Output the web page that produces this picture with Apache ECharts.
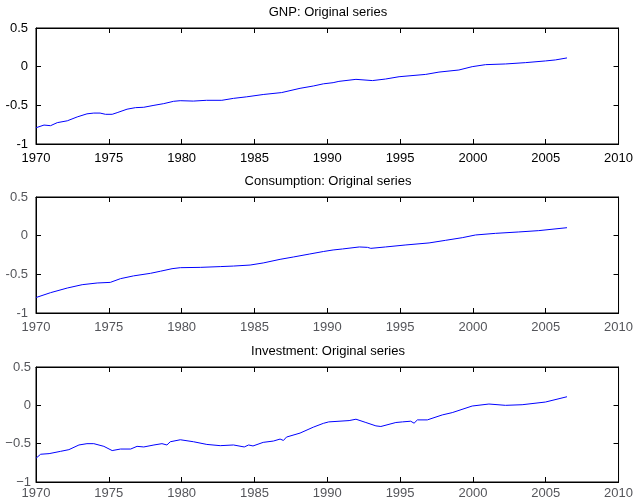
<!DOCTYPE html>
<html>
<head>
<meta charset="utf-8">
<script src="https://cdn.jsdelivr.net/npm/echarts@6/dist/echarts.min.js"></script>
<style>
  html, body { margin: 0; padding: 0; background: #fff; }
  #chart { width: 636px; height: 500px; }
</style>
</head>
<body>
<div id="chart"></div>
<script>
// Panel titles
const panelTitles = ['GNP: Original series', 'Consumption: Original series', 'Investment: Original series'];

// Axis ticks
const xTicks = { min: 1970, max: 2010, step: 5 };
const yTicks = { min: -1, max: 0.5, step: 0.5 };

// [year, log level] observations for each series
const gnp = [
  [1970.0, -0.79], [1970.55, -0.755], [1971.0, -0.763], [1971.46, -0.724], [1972.15, -0.70],
  [1972.83, -0.65], [1973.5, -0.61], [1973.97, -0.60], [1974.4, -0.60], [1974.77, -0.616],
  [1975.23, -0.616], [1975.57, -0.595], [1976.25, -0.55], [1976.83, -0.53], [1977.4, -0.525],
  [1978.1, -0.50], [1978.77, -0.478], [1979.45, -0.448], [1979.9, -0.44], [1980.8, -0.445],
  [1981.7, -0.435], [1982.76, -0.435], [1983.56, -0.41], [1984.47, -0.39], [1985.6, -0.36],
  [1986.87, -0.335], [1988.13, -0.28], [1989.04, -0.25], [1989.73, -0.222], [1990.4, -0.207],
  [1990.8, -0.19], [1991.97, -0.164], [1993.1, -0.18], [1994.0, -0.16], [1994.93, -0.13],
  [1996.76, -0.10], [1997.67, -0.07], [1999.04, -0.043], [1999.95, 0.0], [2000.87, 0.026],
  [2002.24, 0.035], [2003.6, 0.052], [2004.98, 0.074], [2005.66, 0.087], [2006.46, 0.113]
];

const consumption = [
  [1970.0, -0.80], [1971.0, -0.737], [1972.15, -0.677], [1973.17, -0.634], [1974.2, -0.612],
  [1975.1, -0.604], [1975.8, -0.556], [1976.7, -0.52], [1977.86, -0.487], [1978.54, -0.46],
  [1979.34, -0.427], [1979.91, -0.414], [1981.28, -0.41], [1982.65, -0.40], [1983.56, -0.393],
  [1984.7, -0.38], [1985.6, -0.353], [1986.76, -0.306], [1987.67, -0.276], [1988.8, -0.237],
  [1989.73, -0.205], [1990.4, -0.185], [1991.05, -0.172], [1992.2, -0.146], [1992.76, -0.151],
  [1992.99, -0.164], [1994.0, -0.146], [1995.4, -0.12], [1996.99, -0.094], [1998.13, -0.06],
  [1999.27, -0.026], [2000.18, 0.009], [2001.55, 0.03], [2003.15, 0.048], [2004.52, 0.065],
  [2006.46, 0.103]
];

const investment = [
  [1970.0, -0.69], [1970.32, -0.638], [1970.9, -0.63], [1971.69, -0.60], [1972.26, -0.578],
  [1972.95, -0.517], [1973.5, -0.50], [1973.97, -0.50], [1974.66, -0.535], [1975.23, -0.59],
  [1975.8, -0.57], [1976.5, -0.57], [1976.94, -0.535], [1977.4, -0.543], [1978.1, -0.517],
  [1978.65, -0.50], [1978.99, -0.517], [1979.22, -0.475], [1979.91, -0.449], [1980.82, -0.475],
  [1981.73, -0.51], [1982.65, -0.526], [1983.56, -0.517], [1984.3, -0.543], [1984.6, -0.517],
  [1984.9, -0.53], [1985.6, -0.483], [1986.3, -0.466], [1986.76, -0.44], [1986.99, -0.458],
  [1987.2, -0.414], [1988.13, -0.362], [1989.04, -0.285], [1989.73, -0.235], [1990.1, -0.216],
  [1991.5, -0.199], [1991.97, -0.181], [1992.65, -0.224], [1993.34, -0.268], [1993.68, -0.276],
  [1994.71, -0.224], [1995.16, -0.216], [1995.73, -0.207], [1995.96, -0.233], [1996.19, -0.19],
  [1996.87, -0.19], [1997.9, -0.125], [1998.58, -0.095], [1999.95, -0.009], [2001.1, 0.017],
  [2002.24, 0.0], [2003.38, 0.008], [2004.98, 0.043], [2006.46, 0.112]
];

const seriesData = [gnp, consumption, investment];

const FONT = '"Liberation Sans", Arial, Helvetica, sans-serif';
const gridTops = [28, 197, 367];
const gridHeight = 116;
const minus = v => String(v).replace('-', '\u2212');

// per-panel label styling
const labelStyles = [
  { color: '#000' },
  { fontFamily: FONT },
  { margin: 5 }
];
const yFormatters = [undefined, undefined, minus];

const ticks = () => ({ show: true, inside: true, length: 5, lineStyle: { color: '#000', width: 1 } });
const line = () => ({ show: true, onZero: false, lineStyle: { color: '#000', width: 1 } });

const title = [], grid = [], xAxis = [], yAxis = [], series = [];

panelTitles.forEach((t, i) => {
  title.push({
    text: t, left: 328, top: gridTops[i] - 22, textAlign: 'center', padding: 0,
    textStyle: { fontFamily: FONT, fontSize: 13, fontWeight: 'normal', color: '#000' }
  });
  grid.push({
    left: 36, right: 16, top: gridTops[i], height: gridHeight,
    show: true, borderColor: '#000', borderWidth: 1
  });
  xAxis.push({
    type: 'value', gridIndex: i, position: 'bottom',
    min: xTicks.min, max: xTicks.max, interval: xTicks.step,
    axisLine: line(), axisTick: ticks(),
    axisLabel: Object.assign({ show: true, fontSize: 13, formatter: v => String(v) }, labelStyles[i]),
    splitLine: { show: false }
  });
  xAxis.push({
    type: 'value', gridIndex: i, position: 'top',
    min: xTicks.min, max: xTicks.max, interval: xTicks.step,
    axisLine: line(), axisTick: ticks(), axisLabel: { show: false }, splitLine: { show: false }
  });
  const yLabel = Object.assign({ show: true, fontSize: 13 }, labelStyles[i]);
  if (yFormatters[i]) yLabel.formatter = yFormatters[i];
  yAxis.push({
    type: 'value', gridIndex: i, position: 'left',
    min: yTicks.min, max: yTicks.max, interval: yTicks.step,
    axisLine: line(), axisTick: ticks(), axisLabel: yLabel, splitLine: { show: false }
  });
  yAxis.push({
    type: 'value', gridIndex: i, position: 'right',
    min: yTicks.min, max: yTicks.max, interval: yTicks.step,
    axisLine: line(), axisTick: ticks(), axisLabel: { show: false }, splitLine: { show: false }
  });
  series.push({
    type: 'line', xAxisIndex: 2 * i, yAxisIndex: 2 * i,
    data: seriesData[i], showSymbol: false,
    lineStyle: { color: '#0000ff', width: 1 }
  });
});

const chart = echarts.init(document.getElementById('chart'));
chart.setOption({ animation: false, title, grid, xAxis, yAxis, series });
</script>
</body>
</html>
